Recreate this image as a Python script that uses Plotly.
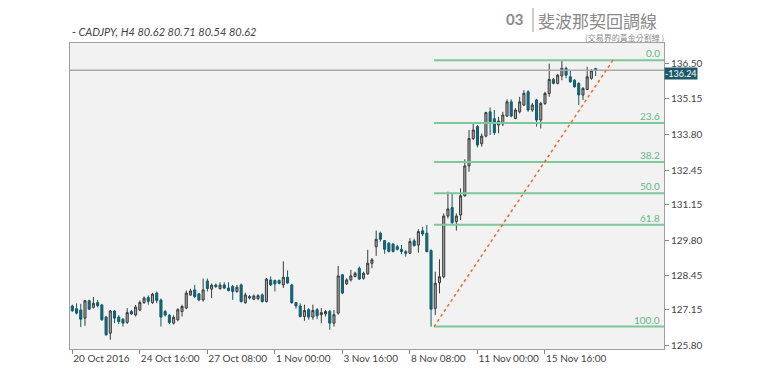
import plotly.graph_objects as go

# ---------------- data ----------------
bar_index = list(range(125))
opens = [127.30,127.20,127.15,126.84,127.50,127.25,127.43,127.34,126.88,126.27,
         127.11,126.88,126.80,126.68,127.09,126.96,127.15,127.43,127.62,127.43,
         127.79,127.53,127.09,126.95,126.65,126.78,127.09,127.22,127.72,127.91,
         127.76,127.53,128.25,127.94,128.10,127.96,128.10,127.98,128.04,127.85,
         128.10,127.43,127.66,127.56,127.58,127.72,127.47,128.29,128.27,128.27,
         128.10,128.39,128.10,127.43,127.30,126.90,127.16,126.88,127.16,126.97,
         127.00,127.10,126.65,127.03,128.48,128.14,128.29,128.42,128.73,128.35,
         128.52,128.92,129.55,130.06,129.78,129.68,129.65,129.55,129.45,129.36,
         129.30,129.77,129.61,130.15,130.06,129.40,127.21,128.19,128.41,130.71,
         131.03,130.50,130.75,131.48,132.61,133.65,134.10,133.45,133.74,134.66,
         134.40,134.16,134.20,134.50,135.04,134.41,134.66,134.92,135.42,134.73,
         135.11,134.35,134.98,135.36,135.89,135.74,136.02,136.31,135.99,135.86,
         135.74,135.30,135.51,135.93,136.30]
highs = [127.35,127.40,127.38,127.53,127.54,127.64,127.53,127.38,126.92,127.15,
         127.15,126.95,126.84,127.22,127.15,127.34,127.51,127.66,127.70,127.80,
         127.85,127.58,127.15,127.00,126.95,127.22,127.35,127.89,127.95,128.10,
         127.80,128.34,128.34,128.15,128.15,128.20,128.20,128.20,128.10,128.10,
         128.15,127.80,127.72,127.74,127.75,127.78,128.36,128.42,128.30,128.30,
         128.99,128.65,128.14,127.45,127.40,127.35,127.22,127.35,127.22,127.22,
         127.15,127.15,127.15,128.82,128.52,128.35,128.67,128.60,128.80,128.60,
         129.43,129.12,130.16,130.12,129.80,129.72,129.68,129.62,129.61,129.42,
         129.87,129.85,130.21,130.30,130.37,129.45,128.60,129.07,130.81,131.63,
         131.55,130.81,131.76,132.86,133.97,134.22,134.16,133.84,134.66,134.83,
         134.73,134.47,134.66,135.13,135.13,134.80,135.23,135.48,135.48,135.00,
         135.15,135.04,135.42,136.49,135.95,136.10,136.62,136.37,136.24,135.90,
         135.78,135.60,136.37,136.28,136.33]
lows = [127.08,126.98,126.50,126.55,127.15,127.20,127.25,126.74,126.17,126.02,
        126.65,126.62,126.52,126.62,126.96,126.90,127.10,127.38,127.35,127.38,
        127.41,126.52,126.90,126.62,126.60,126.72,126.90,127.18,127.68,127.60,
        127.48,127.47,127.85,127.60,127.98,127.92,127.94,127.85,127.53,127.80,
        127.43,127.38,127.55,127.52,127.52,127.43,127.43,128.06,127.85,128.12,
        127.98,128.14,127.38,127.20,126.87,126.74,126.78,126.78,126.80,126.65,
        126.90,126.40,126.52,126.97,127.75,128.10,128.23,128.38,128.29,128.30,
        128.48,128.73,129.20,129.74,129.28,129.33,129.33,129.40,129.27,129.17,
        129.27,129.55,129.32,129.95,129.34,126.52,126.96,127.78,128.35,130.62,
        130.41,130.16,130.56,131.44,132.39,133.59,133.31,133.34,133.69,133.78,
        133.78,133.85,134.12,134.47,134.45,134.38,134.60,134.88,134.66,134.66,
        134.10,134.03,134.92,135.23,135.70,135.70,135.86,135.93,135.76,135.58,
        134.92,135.11,135.48,135.88,136.02]
closes = [127.12,127.03,126.80,127.50,127.18,127.40,127.31,126.78,126.21,127.11,
          126.84,126.71,126.65,127.05,127.00,127.26,127.43,127.60,127.48,127.75,
          127.51,126.88,126.96,126.67,126.87,127.16,127.28,127.79,127.87,127.66,
          127.53,127.91,127.96,128.09,128.04,128.09,127.98,127.89,127.85,128.01,
          127.47,127.72,127.60,127.68,127.69,127.47,128.32,128.10,128.14,128.16,
          128.39,128.17,127.43,127.30,126.90,127.13,126.88,127.13,126.93,127.05,
          127.09,126.65,126.97,128.44,127.79,128.29,128.44,128.54,128.32,128.54,
          128.92,129.05,129.83,129.83,129.45,129.37,129.37,129.45,129.36,129.30,
          129.74,129.59,130.12,130.03,129.36,127.18,128.16,128.41,130.71,130.98,
          130.46,130.71,131.48,132.61,133.65,133.97,133.40,133.74,134.63,134.29,
          133.87,134.31,134.54,135.04,134.50,134.73,135.04,135.36,134.73,134.92,
          134.35,134.98,135.36,135.89,135.74,136.05,136.31,136.05,135.80,135.61,
          135.30,135.55,135.99,136.22,136.24]

x_tick_index = [0, 16, 32, 48, 64, 80, 96, 112]
x_tick_labels = ["20 Oct 2016", "24 Oct 16:00", "27 Oct 08:00", "1 Nov 00:00",
                 "3 Nov 16:00", "8 Nov 08:00", "11 Nov 00:00", "15 Nov 16:00"]
y_tick_values = [125.80, 127.15, 128.45, 129.80, 131.15, 132.45, 133.80, 135.15, 136.50]
y_tick_labels = ["125.80", "127.15", "128.45", "129.80", "131.15", "132.45", "133.80", "135.15", "136.50"]

fib_ratios = [0.0, 0.236, 0.382, 0.5, 0.618, 1.0]
fib_labels = ["0.0", "23.6", "38.2", "50.0", "61.8", "100.0"]
fib_high = 136.62
fib_low = 126.52
fib_start_index = 85.7
fib_trend_x = [85.7, 128.1]
fib_trend_y = [126.52, 136.62]
current_price = 136.24

x_range = [-0.55, 140.2]
y_range = [125.67, 137.27]

# ---------------- styles ----------------
FONT = "Lato, 'Open Sans', sans-serif"
BULL_FILL = "#a8a8a8"
BULL_LINE = "#3a3a3a"
BEAR_FILL = "#17687a"
BEAR_LINE = "#0f5c6b"
FIB_GREEN = "#7cc89a"
FIB_TEXT = "#5fb883"
ORANGE = "#ef6a2a"

fig = go.Figure()
fig.add_trace(go.Candlestick(
    x=bar_index, open=opens, high=highs, low=lows, close=closes,
    increasing=dict(fillcolor=BULL_FILL, line=dict(color=BULL_LINE, width=1)),
    decreasing=dict(fillcolor=BEAR_FILL, line=dict(color=BEAR_LINE, width=1)),
    whiskerwidth=0, showlegend=False, hoverinfo="skip",
))

# current price line
fig.add_trace(go.Scatter(x=x_range, y=[current_price, current_price], mode="lines",
                         line=dict(color="#a8a8a8", width=1.5), showlegend=False, hoverinfo="skip"))

# fib levels
for r, lab in zip(fib_ratios, fib_labels):
    lvl = fib_high - r * (fib_high - fib_low)
    fig.add_trace(go.Scatter(x=[fib_start_index, x_range[1]], y=[lvl, lvl], mode="lines",
                             line=dict(color=FIB_GREEN, width=2), showlegend=False, hoverinfo="skip"))
    fig.add_annotation(xref="paper", x=1, xanchor="right", xshift=-3, y=lvl, yref="y",
                       yanchor="bottom", yshift=0, text=lab, showarrow=False,
                       font=dict(family=FONT, size=10, color=FIB_TEXT), borderpad=0)

# fib trend line
fig.add_trace(go.Scatter(x=fib_trend_x, y=fib_trend_y, mode="lines",
                         line=dict(color=ORANGE, width=1.5, dash="dot"), showlegend=False, hoverinfo="skip"))

# current price label
fig.add_annotation(xref="paper", x=1, xanchor="left", xshift=0, y=current_price, yref="y",
                   yanchor="middle", yshift=-3, text="-136.24", showarrow=False, bgcolor="#1c5a68",
                   font=dict(family=FONT, size=9, color="white"), borderpad=0)

# header texts
fig.add_annotation(xref="paper", yref="paper", x=0, y=1.039, xanchor="left", yanchor="middle",
                   text="<i>- CADJPY, H4 80.62 80.71 80.54 80.62</i>", showarrow=False,
                   font=dict(family=FONT, size=11, color="#444"))
fig.add_annotation(xref="paper", yref="paper", x=0.7475, y=1.078, xanchor="center", yanchor="middle",
                   text="<b>03</b>", showarrow=False, font=dict(family=FONT, size=15, color="#8a8a8a"))
fig.add_shape(type="line", xref="paper", yref="paper", x0=0.7795, x1=0.7795, y0=1.036, y1=1.12,
              line=dict(color="#9a9a9a", width=1))
fig.add_annotation(xref="paper", yref="paper", x=0.787, y=1.0735, xanchor="left", yanchor="middle",
                   text="斐波那契回調線", showarrow=False, borderpad=0,
                   font=dict(family="'Noto Sans CJK TC', sans-serif", size=17, color="#8a8a8a"))
fig.add_annotation(xref="paper", yref="paper", x=1.002, y=1.0196, xanchor="right", yanchor="middle",
                   text="(交易界的黃金分割線 )", showarrow=False, borderpad=0,
                   font=dict(family="'Noto Sans CJK TC', sans-serif", size=8, color="#8a8a8a"))

# the page body has an 8px default margin, so the figure is sized to end at the window edge
fig.update_layout(
    width=758, height=375,
    margin=dict(l=62, r=102, t=35, b=34, autoexpand=False),
    paper_bgcolor="white", plot_bgcolor="#f2f2f2",
    font=dict(family=FONT, size=10, color="#444"),
    xaxis=dict(range=x_range, rangeslider=dict(visible=False), tickmode="array",
               tickvals=x_tick_index, ticktext=x_tick_labels, ticks="outside", ticklen=4,
               tickcolor="#888", ticklabelposition="outside right", tickangle=0,
               automargin=False, showgrid=False, zeroline=False,
               showline=True, linecolor="#a0a0a0", linewidth=1, mirror=True,
               tickfont=dict(family=FONT, size=10, color="#444")),
    yaxis=dict(range=y_range, side="right", tickmode="array", tickvals=y_tick_values,
               ticktext=y_tick_labels, ticks="outside", ticklen=4, tickcolor="#888",
               automargin=False, showgrid=False, zeroline=False, showline=True,
               linecolor="#a0a0a0", linewidth=1,
               mirror=True, tickfont=dict(family=FONT, size=10, color="#444")),
    showlegend=False,
)

fig.write_html("out.html")
